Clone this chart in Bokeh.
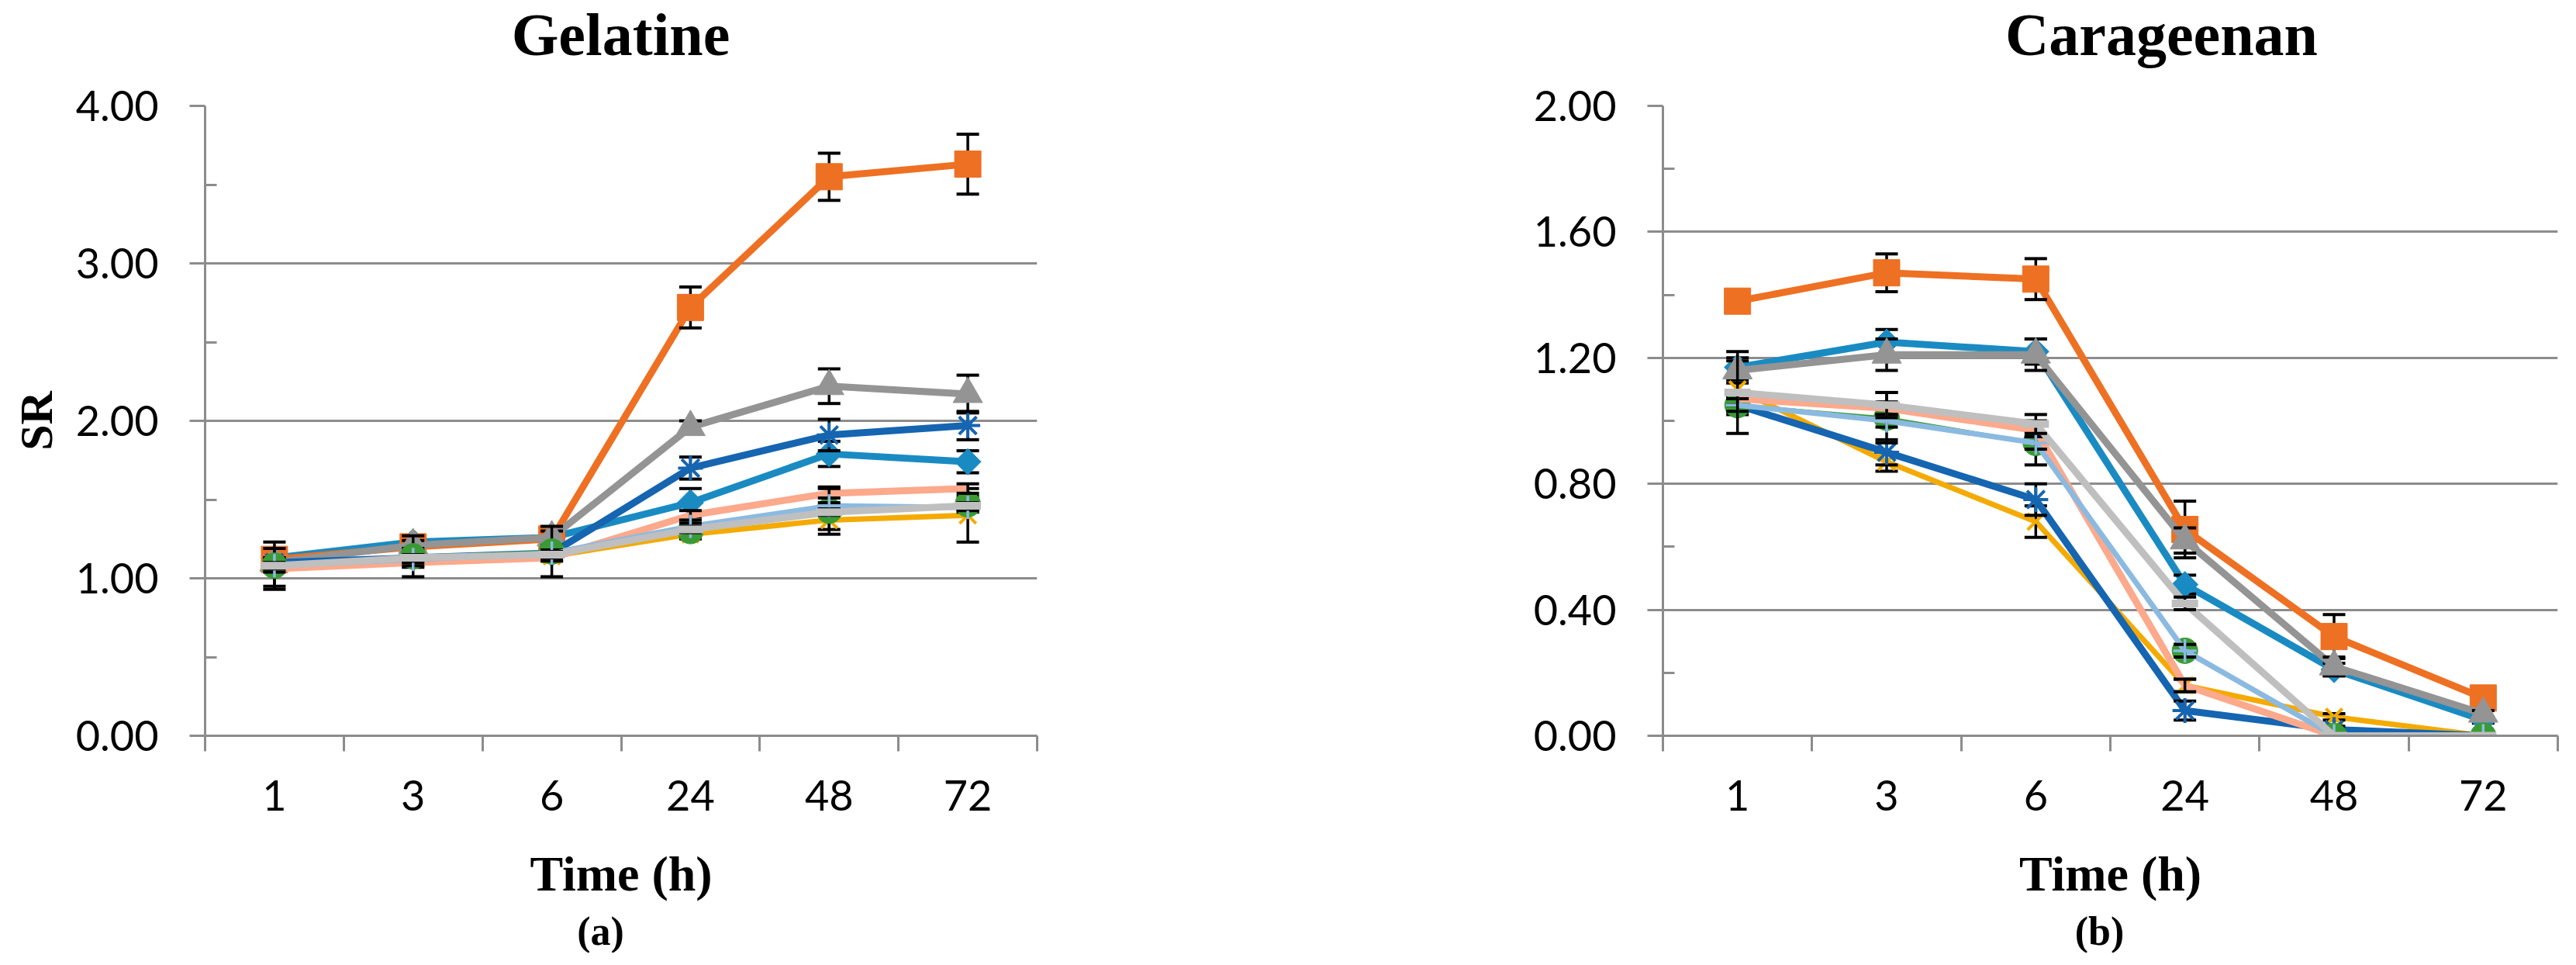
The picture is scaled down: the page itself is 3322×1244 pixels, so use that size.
from bokeh.plotting import figure
from bokeh.models import ColumnDataSource, FixedTicker, Range1d, NumeralTickFormatter
from bokeh.layouts import row, column
from bokeh.core.properties import value
from bokeh.embed import file_html
from bokeh.resources import INLINE
import numpy as np

# ---------------- data ----------------
categories = ["1", "3", "6", "24", "48", "72"]

series_names = ["S1", "S2", "S3", "S4", "S5", "S6", "S7", "S8", "S9"]

# Gelatine (a)
gel_values = {
    "S1": [1.13, 1.23, 1.26, 1.48, 1.79, 1.74],
    "S2": [1.12, 1.20, 1.25, 2.72, 3.55, 3.63],
    "S3": [1.10, 1.21, 1.26, 1.96, 2.22, 2.17],
    "S4": [1.07, 1.12, 1.14, 1.28, 1.37, 1.40],
    "S5": [1.10, 1.13, 1.16, 1.70, 1.91, 1.97],
    "S6": [1.08, 1.14, 1.17, 1.30, 1.43, 1.47],
    "S7": [1.06, 1.10, 1.13, 1.40, 1.54, 1.57],
    "S8": [1.08, 1.12, 1.16, 1.33, 1.46, 1.45],
    "S9": [1.08, 1.13, 1.15, 1.31, 1.42, 1.46],
}
gel_errors = {
    "S1": [0.03, 0.03, 0.03, 0.09, 0.08, 0.07],
    "S2": [0.04, 0.05, 0.05, 0.13, 0.15, 0.19],
    "S3": [0.03, 0.03, 0.04, 0.04, 0.11, 0.12],
    "S4": [0.12, 0.03, 0.03, 0.03, 0.06, 0.17],
    "S5": [0.03, 0.06, 0.05, 0.07, 0.10, 0.09],
    "S6": [0.15, 0.13, 0.16, 0.03, 0.15, 0.05],
    "S7": [0.02, 0.02, 0.02, 0.03, 0.03, 0.03],
    "S8": [0.02, 0.02, 0.02, 0.02, 0.02, 0.02],
    "S9": [0.02, 0.02, 0.02, 0.02, 0.02, 0.02],
}

# Carageenan (b)
car_values = {
    "S1": [1.17, 1.25, 1.22, 0.48, 0.21, 0.05],
    "S2": [1.38, 1.47, 1.45, 0.655, 0.315, 0.12],
    "S3": [1.16, 1.21, 1.21, 0.62, 0.22, 0.07],
    "S4": [1.10, 0.87, 0.68, 0.16, 0.06, 0.00],
    "S5": [1.05, 0.90, 0.75, 0.08, 0.02, 0.00],
    "S6": [1.05, 1.01, 0.93, 0.27, 0.00, 0.00],
    "S7": [1.07, 1.04, 0.97, 0.16, 0.00, 0.00],
    "S8": [1.05, 1.00, 0.93, 0.27, 0.00, 0.00],
    "S9": [1.09, 1.05, 0.99, 0.42, 0.00, 0.00],
}
car_errors = {
    "S1": [0.03, 0.04, 0.04, 0.03, 0.02, 0.01],
    "S2": [0.02, 0.06, 0.065, 0.09, 0.07, 0.02],
    "S3": [0.03, 0.05, 0.05, 0.04, 0.03, 0.01],
    "S4": [0.02, 0.03, 0.05, 0.02, 0.01, 0.00],
    "S5": [0.02, 0.04, 0.05, 0.03, 0.01, 0.00],
    "S6": [0.03, 0.08, 0.07, 0.02, 0.00, 0.00],
    "S7": [0.02, 0.02, 0.02, 0.02, 0.00, 0.00],
    "S8": [0.02, 0.02, 0.02, 0.02, 0.00, 0.00],
    "S9": [0.13, 0.04, 0.03, 0.02, 0.00, 0.00],
}

gel_yticks = [0, 1, 2, 3, 4]
gel_yminor = [0.5, 1.5, 2.5, 3.5]
car_yticks = [0, 0.4, 0.8, 1.2, 1.6, 2.0]
car_yminor = [0.2, 0.6, 1.0, 1.4, 1.8]

panel_titles = ["Gelatine", "Carageenan"]
panel_tags = ["(a)", "(b)"]

# ---------------- styles ----------------
colors = {
    "S1": "#1A8BC2", "S2": "#EE7023", "S3": "#949494", "S4": "#F4AA00",
    "S5": "#1565B1", "S6": "#3A9B35", "S7": "#FCA98C", "S8": "#8BBAE1",
    "S9": "#BFBFBF",
}
line_widths = {"S1": 9, "S2": 9, "S3": 9, "S4": 7, "S5": 9, "S6": 3.5,
               "S7": 9, "S8": 7, "S9": 9}
markers = {
    "S1": dict(marker="square", size=24, angle=np.pi / 4),
    "S2": dict(marker="square", size=34),
    "S3": dict(marker="triangle", size=38),
    "S4": dict(marker="x", size=30, line_width=4),
    "S5": dict(marker="asterisk", size=32, line_width=4),
    "S6": dict(marker="circle", size=33),
    "S7": None,
    "S8": dict(marker="cross", size=30, line_width=3.5),
    "S9": dict(marker="dash", size=34, line_width=10),
}
AXIS = "#8C8C8C"
TICK_FONT = "Lato"
SERIF = "Liberation Serif"

W1, W2 = 1652, 1654
HT, HP, HB = 100, 1068, 60          # title strip, chart, caption strip


def text_strip(width, height, txt, x, y, size):
    t = figure(width=width, height=height, output_backend="svg",
               toolbar_location=None, x_range=Range1d(0, width),
               y_range=Range1d(0, height), x_axis_location=None,
               y_axis_location=None, min_border=0)
    t.outline_line_color = None
    t.grid.visible = False
    t.text(x=[x], y=[y], text=[txt], text_font=value(SERIF),
           text_font_style="bold", text_font_size=value(size),
           text_align="center", text_baseline="alphabetic",
           text_color="black")
    return t


def make_panel(values, errors, y_max, yticks, yminor, width, left, frame_w,
               ylabel):
    n = len(categories)
    xs = [i + 0.5 for i in range(n)]
    p = figure(width=width, height=HP, output_backend="svg",
               toolbar_location=None, x_range=Range1d(0, n),
               y_range=Range1d(0, y_max),
               min_border_left=left, min_border_right=width - left - frame_w,
               min_border_top=36, min_border_bottom=220)
    p.outline_line_color = None
    p.background_fill_color = "white"
    p.border_fill_color = "white"
    p.xgrid.visible = False
    p.ygrid.ticker = FixedTicker(ticks=yticks)
    p.ygrid.grid_line_color = AXIS
    p.ygrid.grid_line_width = 3

    xa = p.xaxis[0]
    xa.ticker = FixedTicker(ticks=xs, minor_ticks=list(range(n + 1)))
    xa.major_label_overrides = {x: c for x, c in zip(xs, categories)}
    xa.major_tick_line_color = None
    xa.major_tick_out = 0
    xa.major_tick_in = 0
    xa.minor_tick_out = 20
    xa.minor_tick_in = 0
    xa.minor_tick_line_color = AXIS
    xa.minor_tick_line_width = 3
    xa.axis_line_color = AXIS
    xa.axis_line_width = 3
    xa.major_label_text_font = TICK_FONT
    xa.major_label_text_font_size = "54px"
    xa.major_label_text_color = "black"
    xa.major_label_standoff = 37
    xa.axis_label = "Time (h)"
    xa.axis_label_text_font = SERIF
    xa.axis_label_text_font_style = "bold"
    xa.axis_label_text_font_size = "64px"
    xa.axis_label_text_color = "black"
    xa.axis_label_standoff = 43

    ya = p.yaxis[0]
    ya.ticker = FixedTicker(ticks=yticks, minor_ticks=yminor)
    ya.formatter = NumeralTickFormatter(format="0.00")
    ya.major_tick_out = 20
    ya.major_tick_in = 0
    ya.minor_tick_out = 0
    ya.minor_tick_in = 15
    ya.major_tick_line_color = AXIS
    ya.minor_tick_line_color = AXIS
    ya.major_tick_line_width = 3
    ya.minor_tick_line_width = 3
    ya.axis_line_color = AXIS
    ya.axis_line_width = 3
    ya.major_label_text_font = TICK_FONT
    ya.major_label_text_font_size = "54px"
    ya.major_label_text_color = "black"
    ya.major_label_standoff = 40
    if ylabel:
        ya.axis_label = ylabel
        ya.axis_label_text_font = SERIF
        ya.axis_label_text_font_style = "bold"
        ya.axis_label_text_font_size = "60px"
        ya.axis_label_text_color = "black"
        ya.axis_label_standoff = 15

    for name in series_names:
        v = values[name]
        e = errors[name]
        src = ColumnDataSource(dict(
            x=xs, y=v,
            lo=[a - b for a, b in zip(v, e)],
            hi=[a + b for a, b in zip(v, e)]))
        col = colors[name]
        p.line("x", "y", source=src, line_color=col,
               line_width=line_widths[name], line_join="round")
        p.segment(x0="x", y0="lo", x1="x", y1="hi", source=src,
                  line_color="black", line_width=3.5)
        p.scatter("x", "lo", source=src, marker="dash", size=29,
                  line_color="black", line_width=4)
        p.scatter("x", "hi", source=src, marker="dash", size=29,
                  line_color="black", line_width=4)
        m = markers[name]
        if m is not None:
            kw = dict(m)
            mk = kw.pop("marker")
            if mk in ("x", "asterisk", "cross", "dash"):
                p.scatter("x", "y", source=src, marker=mk, line_color=col, **kw)
            else:
                p.scatter("x", "y", source=src, marker=mk, fill_color=col,
                          line_color=col, **kw)
    return p


p1 = make_panel(gel_values, gel_errors, 4, gel_yticks, gel_yminor, W1, 264,
                1073, "SR")
p2 = make_panel(car_values, car_errors, 2, car_yticks, car_yminor, W2, 492,
                1154, None)

t1 = text_strip(W1, HT, panel_titles[0], 800, 56, "78px")
t2 = text_strip(W2, HT, panel_titles[1], 1135, 56, "78px")
b1 = text_strip(W1, HB, panel_tags[0], 774, 28, "52px")
b2 = text_strip(W2, HB, panel_tags[1], 1055, 28, "52px")

layout = column(row(t1, t2, spacing=0), row(p1, p2, spacing=0),
                row(b1, b2, spacing=0), spacing=0)
open("out.html", "w").write(file_html(layout, INLINE))
